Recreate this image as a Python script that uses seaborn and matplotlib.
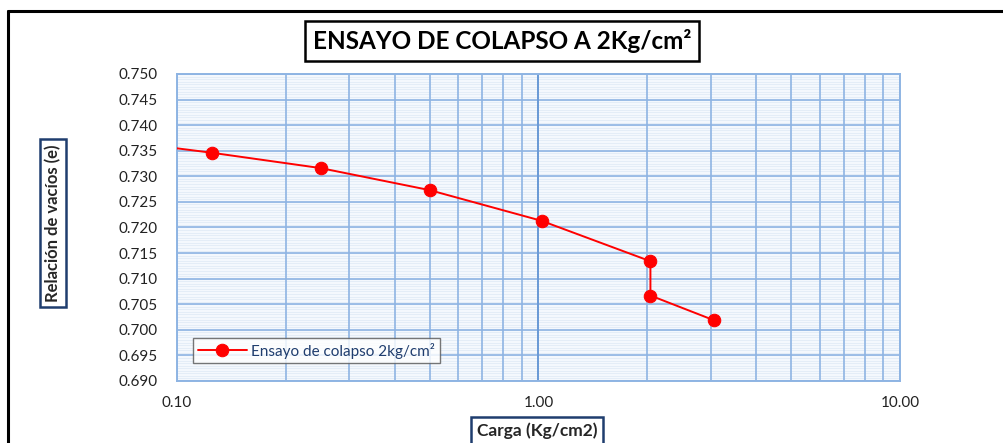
import matplotlib
matplotlib.use("Agg")
import matplotlib.pyplot as plt
import matplotlib.ticker as mticker
from matplotlib.lines import Line2D
import seaborn as sns
import pandas as pd
import numpy as np

# datos del ensayo (carga en Kg/cm2, relación de vacíos e)
carga = [0.0625, 0.125, 0.25, 0.50, 1.02, 2.04, 2.04, 3.05]
vacios = [0.7373, 0.7346, 0.7316, 0.7273, 0.7213, 0.7134, 0.7067, 0.7019]
serie = "Ensayo de colapso 2kg/cm²"

y_ticks = [0.690, 0.695, 0.700, 0.705, 0.710, 0.715, 0.720, 0.725,
           0.730, 0.735, 0.740, 0.745, 0.750]
x_ticks = [0.1, 1.0, 10.0]

df = pd.DataFrame({"Carga": carga, "e": vacios})

sns.set_style("white")
plt.rcParams["font.family"] = ["Lato", "DejaVu Sans"]

azul = "#8EB4E3"
fig = plt.figure(figsize=(10.04, 4.43), dpi=100)
ax = fig.add_axes([0.1763, 0.140, 0.7201, 0.693])
ax.set_facecolor("#F4F8FD")

sns.lineplot(data=df, x="Carga", y="e", sort=False, estimator=None,
             color="#FF0000", lw=1.4, marker="o", markersize=9,
             markeredgecolor="#FF0000", label=serie, ax=ax, zorder=5)

ax.set_xscale("log")
ax.set_xlim(0.1, 10)
ax.set_ylim(0.690, 0.750)
ax.set_xticks(x_ticks)
ax.xaxis.set_major_formatter(mticker.FuncFormatter(lambda v, p: f"{v:.2f}"))
ax.xaxis.set_minor_locator(mticker.LogLocator(base=10, subs=range(2, 10)))
ax.xaxis.set_minor_formatter(mticker.NullFormatter())
ax.set_yticks(y_ticks)
ax.yaxis.set_major_formatter(mticker.FormatStrFormatter("%.3f"))

# rayado fino horizontal, por debajo de la cuadricula principal
for yv in np.arange(0.690, 0.750, 0.0005):
    ax.axhline(yv, color="#E2EBF6", lw=0.6, zorder=0.1)

ax.set_axisbelow(True)
ax.grid(True, which="major", axis="both", color=azul, lw=1.2)
ax.grid(True, which="minor", axis="x", color=azul, lw=1.2)
ax.axvline(1.0, color="#6A9AD6", lw=1.4, zorder=1)

for s in ax.spines.values():
    s.set_color(azul)
    s.set_linewidth(1.4)

ax.tick_params(axis="x", which="both", direction="out", length=5,
               color=azul, width=1.2, labelsize=11, labelcolor="#222222", pad=6)
ax.tick_params(axis="y", which="major", direction="out", length=4,
               color=azul, width=1.2, labelsize=11, labelcolor="#222222", pad=10)

ax.set_xlabel("")
ax.set_ylabel("")

leg = ax.legend(loc="upper left", bbox_to_anchor=(0.012, 0.165), frameon=True,
                fancybox=False, fontsize=11, handlelength=3.2,
                borderpad=0.3, handletextpad=0.3)
leg.get_frame().set_edgecolor("#555555")
leg.get_frame().set_linewidth(1.0)
for t in leg.get_texts():
    t.set_color("#1F3D6E")

# titulo y rotulos en cajas
fig.text(0.500, 0.908, "ENSAYO DE COLAPSO A 2Kg/cm²", ha="center", va="center",
         fontsize=17.5, fontweight="bold", color="black",
         bbox=dict(boxstyle="square,pad=0.32", fc="white", ec="black", lw=1.8))
fig.text(0.053, 0.497, "Relación de vacíos (e)", rotation=90, ha="center",
         va="center", fontsize=12, fontweight="bold",
         bbox=dict(boxstyle="square,pad=0.3", fc="white", ec="#1F3D6E", lw=1.8))
fig.text(0.535, 0.027, "Carga (Kg/cm2)", ha="center", va="center",
         fontsize=12.5, fontweight="bold",
         bbox=dict(boxstyle="square,pad=0.35", fc="white", ec="#1F3D6E", lw=1.8))

# marco exterior
fig.add_artist(Line2D([0.008, 1.0], [0.975, 0.975], color="black", lw=2.2))
fig.add_artist(Line2D([0.008, 0.008], [0.0, 0.975], color="black", lw=2.2))

fig.savefig("out.png", dpi=100)
